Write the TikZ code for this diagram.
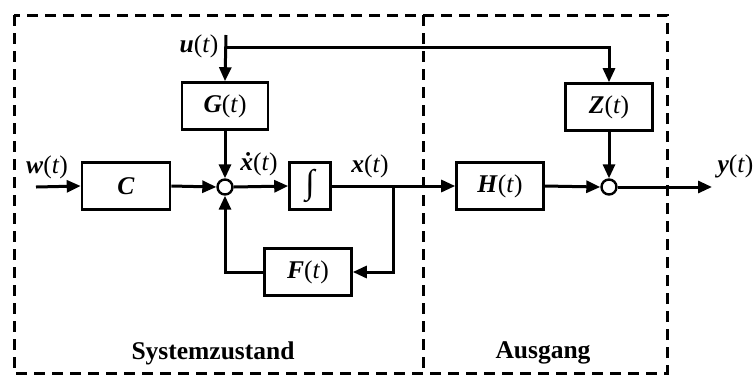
\documentclass[tikz,border=0pt]{standalone}
\usepackage{fontspec}
\setmainfont{Liberation Serif}
\usetikzlibrary{arrows.meta}
\newcommand{\sig}[1]{\textbf{\textit{#1}}(\textit{t})}
\begin{document}
\begin{tikzpicture}[x=1pt,y=-1pt,
  line width=3pt,
  font=\fontsize{25.5}{28}\selectfont,
  blk/.style={draw,line width=2.6pt,minimum height=47pt,inner sep=0pt},
  sumc/.style={draw,circle,line width=2.4pt,minimum size=15pt,inner sep=0pt,fill=white},
  arr/.style={-{Triangle[length=14pt,width=12pt]}},
  region/.style={line width=3pt,dash pattern=on 11pt off 7pt},
  lbl/.style={inner sep=0pt}]
\useasboundingbox (0,0) rectangle (754,376);
% regions
\draw[region] (14,15) rectangle (667,373);
\draw[region] (423,15) -- (423,373);
\node[font=\fontsize{25.5}{28}\selectfont\bfseries] (sys) at (213,353) {Systemzustand};
\node[font=\fontsize{25.5}{28}\selectfont\bfseries] (aus) at (543,353) {Ausgang};
% blocks
\node[blk,minimum width=86pt] (G) at (225,106) {\sig{G}};
\node[blk,minimum width=88pt] (C) at (126,186) {\textbf{\textit{C}}};
\node[blk,minimum width=41pt] (I) at (310,186) {\fontsize{34}{34}\selectfont ∫};
\node[blk,minimum width=87pt] (F) at (308,272) {\sig{F}};
\node[blk,minimum width=87pt] (H) at (500,186) {\sig{H}};
\node[blk,minimum width=87pt] (Z) at (609,107) {\sig{Z}};
\node[sumc] (s1) at (225,187) {};
\node[sumc] (s2) at (609,187) {};
% coordinates
\coordinate (u0) at (226,35);
\coordinate (u1) at (226,47);
\coordinate (w0) at (36,187);
\coordinate (br) at (393,187);
\coordinate (yo) at (712,187);
% labels
\node[lbl] (ul) at (199,46) {\sig{u}};
\node[lbl] (wl) at (47,167) {\sig{w}};
\node[lbl] (xdl) at (259,164) {\textbf{\textit{\.{x}}}(\textit{t})};
\node[lbl] (xl) at (370,166) {\sig{x}};
\node[lbl,anchor=west] (yl) at (716,166) {\sig{y}};
% connectors
\draw[arr] (u0) -- (G.north);
\draw[arr] (u1) -| (Z.north);
\draw[arr] (G.south) -- (s1.north);
\draw[arr] (w0) -- (C.west);
\draw[arr] (C.east) -- (s1.west);
\draw[arr] (s1.east) -- (I.west);
\draw[arr] (I.east) -- (H.west);
\draw[arr] (br) |- (F.east);
\draw[arr] (F.west) -| (s1.south);
\draw[arr] (H.east) -- (s2.west);
\draw[arr] (Z.south) -- (s2.north);
\draw[arr] (s2.east) -- (yo);
\end{tikzpicture}
\end{document}
